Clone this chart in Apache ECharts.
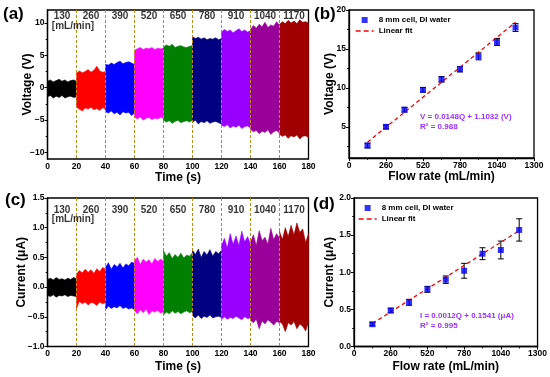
<!DOCTYPE html>
<html><head><meta charset="utf-8">
<script src="https://cdn.jsdelivr.net/npm/echarts@6/dist/echarts.min.js"></script>
<style>html,body{margin:0;padding:0;background:#fff}#c{width:550px;height:377px}</style>
</head><body><div id="c"></div>
<script>
// ---------- data ----------
const flowRates = [130, 260, 390, 520, 650, 780, 910, 1040, 1170];
const segColors = ['#000000', '#ff0000', '#0000ff', '#ff00ff', '#008000', '#000080', '#9a00ff', '#990099', '#a00000'];
const segLength = 20;   // s per flow rate
const timeStep = 2;     // envelope sampling step (s)

// Voltage envelope (V), upper / lower, one row per flow rate
const voltUpper = [
  [1.0, 1.2, 0.9, 1.1, 1.3, 1.0, 1.2, 0.9, 1.1, 1.2, 1.0],
  [2.2, 2.6, 2.3, 2.5, 2.8, 2.4, 2.7, 3.3, 2.6, 2.4, 2.5],
  [3.6, 3.5, 3.8, 3.6, 3.9, 4.1, 3.7, 3.9, 4.0, 3.8, 3.6],
  [5.8, 6.0, 6.2, 5.9, 6.1, 6.0, 6.2, 5.9, 6.1, 6.0, 6.1],
  [6.3, 6.6, 6.4, 6.7, 6.2, 6.4, 6.5, 6.3, 6.2, 6.4, 6.5],
  [7.9, 7.6, 7.8, 7.5, 7.7, 7.4, 7.6, 7.5, 7.7, 7.4, 7.6],
  [8.6, 9.0, 8.7, 8.9, 8.5, 8.8, 9.1, 8.7, 8.9, 8.6, 8.8],
  [9.0, 9.6, 9.2, 9.8, 9.4, 10.1, 9.3, 9.7, 9.5, 10.2, 9.6],
  [9.8, 10.2, 9.9, 10.4, 10.0, 10.3, 9.9, 10.5, 10.1, 10.2, 10.0]
];
const voltLower = [
  [-1.4, -1.2, -1.6, -1.3, -1.5, -1.2, -1.6, -1.4, -1.3, -1.5, -1.4],
  [-3.0, -3.3, -3.6, -3.1, -3.3, -3.0, -3.4, -3.2, -3.5, -3.1, -3.3],
  [-3.7, -3.9, -3.6, -4.0, -3.8, -4.2, -3.7, -3.9, -3.8, -4.3, -3.9],
  [-4.6, -4.8, -4.5, -5.0, -4.7, -4.6, -4.9, -4.7, -4.8, -4.6, -4.7],
  [-5.0, -5.3, -5.1, -5.5, -5.2, -5.0, -5.4, -5.2, -5.1, -5.3, -5.0],
  [-5.3, -5.0, -5.6, -5.2, -5.4, -5.1, -5.5, -5.3, -5.2, -5.4, -5.6],
  [-5.8, -6.0, -5.7, -6.2, -5.9, -6.1, -5.8, -6.3, -6.0, -5.9, -6.2],
  [-6.4, -6.8, -6.6, -7.1, -6.7, -6.9, -6.5, -7.2, -6.8, -6.6, -7.0],
  [-7.2, -7.5, -7.3, -7.8, -7.4, -7.6, -7.3, -7.9, -7.5, -7.4, -7.7]
];
// Current envelope (uA)
const currUpper = [
  [0.13, 0.15, 0.12, 0.16, 0.13, 0.14, 0.12, 0.15, 0.13, 0.16, 0.14],
  [0.22, 0.28, 0.24, 0.30, 0.25, 0.29, 0.23, 0.31, 0.26, 0.33, 0.30],
  [0.33, 0.41, 0.30, 0.38, 0.34, 0.40, 0.32, 0.39, 0.36, 0.42, 0.40],
  [0.45, 0.50, 0.38, 0.47, 0.42, 0.46, 0.39, 0.48, 0.43, 0.47, 0.44],
  [0.61, 0.52, 0.58, 0.48, 0.55, 0.50, 0.57, 0.49, 0.54, 0.52, 0.58],
  [0.62, 0.55, 0.64, 0.50, 0.60, 0.54, 0.63, 0.52, 0.60, 0.56, 0.62],
  [0.70, 0.82, 0.66, 0.90, 0.72, 0.86, 0.70, 0.94, 0.76, 0.85, 0.72],
  [0.75, 0.88, 0.70, 0.95, 0.78, 0.84, 0.72, 0.99, 0.80, 0.90, 0.82],
  [0.94, 0.80, 1.00, 0.85, 1.04, 0.88, 1.08, 0.92, 0.98, 0.75, 0.90]
];
const currLower = [
  [-0.14, -0.16, -0.13, -0.17, -0.14, -0.15, -0.13, -0.16, -0.14, -0.15, -0.16],
  [-0.36, -0.24, -0.28, -0.25, -0.30, -0.26, -0.27, -0.31, -0.25, -0.28, -0.26],
  [-0.38, -0.32, -0.36, -0.33, -0.35, -0.31, -0.36, -0.34, -0.37, -0.35, -0.38],
  [-0.40, -0.45, -0.38, -0.43, -0.37, -0.46, -0.40, -0.42, -0.39, -0.44, -0.41],
  [-0.47, -0.42, -0.45, -0.40, -0.44, -0.41, -0.45, -0.42, -0.40, -0.43, -0.41],
  [-0.48, -0.52, -0.47, -0.53, -0.49, -0.51, -0.47, -0.52, -0.50, -0.49, -0.51],
  [-0.55, -0.50, -0.54, -0.51, -0.53, -0.49, -0.52, -0.55, -0.50, -0.53, -0.52],
  [-0.56, -0.60, -0.54, -0.70, -0.57, -0.62, -0.55, -0.59, -0.64, -0.58, -0.60],
  [-0.58, -0.62, -0.75, -0.60, -0.64, -0.58, -0.70, -0.62, -0.66, -0.74, -0.60]
];

const voltMean = [2.6, 5.0, 7.2, 9.75, 11.1, 12.4, 14.05, 15.9, 17.75];
const voltErr  = [0.3, 0.25, 0.3, 0.3, 0.35, 0.35, 0.45, 0.45, 0.5];
const voltFit  = [[130, 3.03], [1170, 18.42]];
const currMean = [0.30, 0.485, 0.595, 0.77, 0.90, 1.02, 1.25, 1.30, 1.57];
const currErr  = [0.02, 0.03, 0.04, 0.04, 0.05, 0.10, 0.08, 0.12, 0.15];
const currFit  = [[130, 0.31], [1170, 1.56]];

const voltTicks = [-10, -5, 0, 5, 10], voltMinor = [-7.5, -2.5, 2.5, 7.5];
const vbTicks = [5, 10, 15, 20], vbMinor = [2.5, 7.5, 12.5, 17.5];

// ---------- chart ----------
const FONT = 'Liberation Sans, Arial, sans-serif';
const minus = v => String(v).replace('-', '\u2212');
const fmt1 = v => minus(v.toFixed(1));
const lab = {color: '#000', fontSize: 8.5, fontWeight: 'bold', fontFamily: FONT, margin: 3, formatter: v => minus(v)};
const nameStyle = {color: '#000', fontSize: 12, fontWeight: 'bold', fontFamily: FONT};
const aLine = {show: true, lineStyle: {color: '#000', width: 1.3}};
const aTick = {show: true, inside: false, length: 3, lineStyle: {color: '#000', width: 1}};
const mTick = {show: true, splitNumber: 2, length: 1.8, lineStyle: {color: '#000', width: 1}};

const grids = [
  {left: 47.5, top: 10, width: 261, height: 149},
  {left: 349, top: 10, width: 185, height: 148},
  {left: 47.5, top: 198, width: 261, height: 148.5},
  {left: 354, top: 198, width: 184, height: 148.5}
].map(g => Object.assign(g, {show: true, borderColor: '#000', borderWidth: 1.3, backgroundColor: 'transparent', containLabel: false}));

const xAxes = [
  {gridIndex: 0, type: 'value', min: 0, max: 180, interval: 20, name: 'Time (s)', nameGap: 13},
  {gridIndex: 1, type: 'value', min: 0, max: 1300, interval: 260, name: 'Flow rate (mL/min)', nameGap: 13},
  {gridIndex: 2, type: 'value', min: 0, max: 180, interval: 20, name: 'Time (s)', nameGap: 14},
  {gridIndex: 3, type: 'value', min: 0, max: 1300, interval: 260, name: 'Flow rate (mL/min)', nameGap: 14}
].map(a => Object.assign(a, {nameLocation: 'middle', nameMoveOverlap: false, nameTextStyle: nameStyle, axisLine: aLine, axisTick: aTick,
  minorTick: mTick, splitLine: {show: false}, axisLabel: lab}));

const yAxes = [
  {gridIndex: 0, type: 'value', min: -11, max: 12, name: 'Voltage (V)', nameGap: 14,
   axisLabel: Object.assign({}, lab, {customValues: voltTicks}),
   axisTick: Object.assign({}, aTick, {customValues: voltTicks})},
  {gridIndex: 1, type: 'value', min: 1, max: 20, name: 'Voltage (V)', nameGap: 13,
   axisLabel: Object.assign({}, lab, {customValues: vbTicks}),
   axisTick: Object.assign({}, aTick, {customValues: vbTicks})},
  {gridIndex: 2, type: 'value', min: -1, max: 1.5, interval: 0.5, name: 'Current (\u03bcA)', nameGap: 20,
   axisLabel: Object.assign({}, lab, {formatter: fmt1}), axisTick: aTick, minorTick: mTick},
  {gridIndex: 3, type: 'value', min: 0, max: 2, interval: 0.5, name: 'Current (\u03bcA)', nameGap: 18,
   axisLabel: Object.assign({}, lab, {formatter: fmt1}), axisTick: aTick, minorTick: mTick},
  // minor tick helpers for axes with custom major ticks
  {gridIndex: 0, type: 'value', min: -11, max: 12, axisLine: {show: false}, axisLabel: {show: false},
   axisTick: Object.assign({}, aTick, {length: 1.8, customValues: voltMinor})},
  {gridIndex: 1, type: 'value', min: 1, max: 20, axisLine: {show: false}, axisLabel: {show: false},
   axisTick: Object.assign({}, aTick, {length: 1.8, customValues: vbMinor})}
].map(a => Object.assign({nameLocation: 'middle', nameMoveOverlap: false, nameTextStyle: nameStyle, axisLine: aLine, splitLine: {show: false}, position: 'left'}, a));

function bandSeries(upper, lower, gi) {
  return {
    type: 'custom', xAxisIndex: gi, yAxisIndex: gi, silent: true, clip: true, z: 2,
    data: upper.map((u, i) => [i * segLength, 0, i]),
    encode: {x: 0, y: 1},
    renderItem: (params, api) => {
      const s = api.value(2);
      const t0 = s * segLength;
      const pts = [];
      upper[s].forEach((v, k) => pts.push(api.coord([t0 + k * timeStep, v])));
      for (let k = lower[s].length - 1; k >= 0; k--) pts.push(api.coord([t0 + k * timeStep, lower[s][k]]));
      return {type: 'polygon', shape: {points: pts}, style: {fill: segColors[s], stroke: segColors[s], lineWidth: 0.6}};
    }
  };
}

// vertical dashed separators between flow-rate segments
function sepSeries(gi, yMin, yMax) {
  return {
    type: 'custom', xAxisIndex: gi, yAxisIndex: gi, silent: true, clip: true, z: 6,
    data: flowRates.slice(1).map((f, i) => [(i + 1) * segLength, 0]),
    encode: {x: 0, y: 1},
    renderItem: (params, api) => {
      const x = api.value(0);
      const a = api.coord([x, yMax]), b = api.coord([x, yMin]);
      return {type: 'line', shape: {x1: a[0], y1: a[1], x2: b[0], y2: b[1]},
        style: {stroke: '#c08a12', lineWidth: 1, lineDash: [3, 2]}};
    }
  };
}

function flowLabelSeries(gi, yNum, yUnit) {
  const data = flowRates.map((f, i) => ({value: [i * segLength + segLength / 2, yNum], name: String(f)}));
  data.push({value: [3, yUnit], name: '[mL/min]', label: {align: 'left'}});
  return {
    type: 'scatter', xAxisIndex: gi, yAxisIndex: gi, symbolSize: 0, silent: true, z: 7, data,
    label: {show: true, position: 'inside', formatter: '{b}', color: '#000', fontSize: 10, fontWeight: 'bold', fontFamily: FONT}
  };
}

function errSeries(mean, err, gi) {
  return {
    type: 'custom', xAxisIndex: gi, yAxisIndex: gi, z: 3, silent: true,
    data: flowRates.map((q, i) => [q, mean[i], err[i]]),
    encode: {x: 0, y: 1},
    renderItem: (params, api) => {
      const x = api.value(0), y = api.value(1), e = api.value(2);
      const a = api.coord([x, y + e]), b = api.coord([x, y - e]);
      const w = 3, st = {stroke: '#000', lineWidth: 1};
      return {type: 'group', children: [
        {type: 'line', shape: {x1: a[0], y1: a[1], x2: b[0], y2: b[1]}, style: st},
        {type: 'line', shape: {x1: a[0] - w, y1: a[1], x2: a[0] + w, y2: a[1]}, style: st},
        {type: 'line', shape: {x1: b[0] - w, y1: b[1], x2: b[0] + w, y2: b[1]}, style: st}
      ]};
    }
  };
}

const PT = '8 mm cell, DI water', FT = 'Linear fit';
function pointSeries(mean, gi) {
  return {type: 'scatter', name: PT, xAxisIndex: gi, yAxisIndex: gi, z: 4, symbol: 'rect', symbolSize: 6,
    itemStyle: {color: '#0000ff'}, data: flowRates.map((q, i) => [q, mean[i]])};
}
function fitSeries(fit, gi) {
  return {type: 'line', name: FT, xAxisIndex: gi, yAxisIndex: gi, z: 3, symbol: 'none', showSymbol: false,
    lineStyle: {color: '#ff0000', type: [4, 3], width: 1.3}, itemStyle: {color: '#ff0000'}, data: fit};
}

const legendBase = {orient: 'vertical', itemWidth: 18, itemHeight: 6, itemGap: 3, padding: 0,
  textStyle: {color: '#000', fontSize: 8, fontWeight: 'bold', fontFamily: FONT},
  data: [{name: PT, icon: 'path://M0,0L10,0L10,10L0,10Z'},
         {name: FT, itemStyle: {opacity: 0}, lineStyle: {color: '#ff0000', type: [5, 3], width: 1.3, opacity: 1}}]};

const purple = '#9b30ff';
const annot = (x, y, t) => ({type: 'text', left: x, top: y, style: {text: t, fill: purple, fontSize: 8, fontWeight: 'bold', fontFamily: FONT}});
const panelLab = (x, y, t) => ({type: 'text', left: x, top: y, style: {text: t, fill: '#000', fontSize: 17, fontWeight: 'bold', fontFamily: FONT}});

const chart = echarts.init(document.getElementById('c'), null, {renderer: 'canvas'});
chart.setOption({
  animation: false,
  backgroundColor: '#fff',
  grid: grids,
  xAxis: xAxes,
  yAxis: yAxes,
  legend: [
    Object.assign({}, legendBase, {left: 355, top: 16}),
    Object.assign({}, legendBase, {left: 358, top: 204})
  ],
  series: [
    bandSeries(voltUpper, voltLower, 0),
    sepSeries(0, -11, 12),
    flowLabelSeries(0, 11.05, 9.5),
    bandSeries(currUpper, currLower, 2),
    sepSeries(2, -1, 1.5),
    flowLabelSeries(2, 1.30, 1.14),
    errSeries(voltMean, voltErr, 1), fitSeries(voltFit, 1), pointSeries(voltMean, 1),
    errSeries(currMean, currErr, 3), fitSeries(currFit, 3), pointSeries(currMean, 3)
  ],
  graphic: [
    panelLab(3, 6, '(a)'), panelLab(314, 6, '(b)'), panelLab(5, 192, '(c)'), panelLab(313, 196, '(d)'),
    annot(420, 113, 'V = 0.0148Q + 1.1032 (V)'), annot(420, 122.5, 'R\u00b2 = 0.988'),
    annot(420, 312, 'I = 0.0012Q + 0.1541 (\u03bcA)'), annot(420, 321.5, 'R\u00b2 = 0.995')
  ]
});
</script>
</body></html>
